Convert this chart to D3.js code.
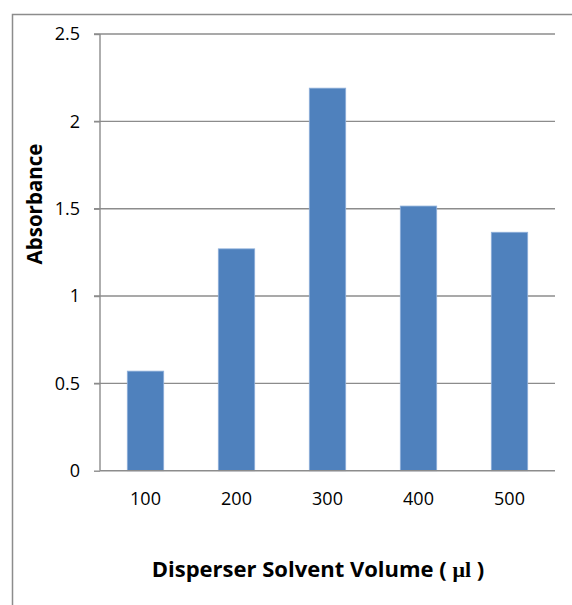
<!DOCTYPE html>
<html>
<head>
<meta charset="utf-8">
<script src="https://cdn.jsdelivr.net/npm/d3@7"></script>
<style>
  body { margin: 0; background: #fff; }
  .tick text { font-family: "Open Sans", sans-serif; font-size: 18px; fill: #000; }
  .title { font-family: "Open Sans", sans-serif; font-weight: bold; fill: #000; }
</style>
</head>
<body>
<script>
//chart values
var volumes = ["100", "200", "300", "400", "500"];
var absorbance = [0.57, 1.27, 2.19, 1.515, 1.365];
var yTicks = [0, 0.5, 1, 1.5, 2, 2.5];

//frame dimensions
var width = 572,
    height = 605;
var margin = {top: 34, right: 17, bottom: 134, left: 100};

var svg = d3.select("body")
    .append("svg")
    .attr("width", width)
    .attr("height", height);

//outer chart border, runs off the right and bottom edges
svg.append("rect")
    .attr("x", 12.5)
    .attr("y", 14.5)
    .attr("width", width)
    .attr("height", height)
    .attr("fill", "none")
    .attr("stroke", "#8c8c8c")
    .attr("stroke-width", 1.5);

var x = d3.scaleBand()
    .domain(volumes)
    .range([margin.left, width - margin.right])
    .paddingInner(0.6)
    .paddingOuter(0.3);

var y = d3.scaleLinear()
    .domain([0, 2.5])
    .range([height - margin.bottom - 0.3, margin.top]);

//gridlines
svg.append("g")
    .selectAll("line")
    .data(yTicks.slice(1))
    .enter()
    .append("line")
    .attr("x1", margin.left - 6)
    .attr("x2", width - margin.right)
    .attr("y1", function(d){ return y(d); })
    .attr("y2", function(d){ return y(d); })
    .attr("stroke", "#8c8c8c")
    .attr("stroke-width", 1.4);

//y axis
var yAxis = svg.append("g")
    .attr("transform", "translate(" + margin.left + ",0)")
    .call(d3.axisLeft(y).tickValues(yTicks).tickSize(6).tickPadding(14).tickFormat(d3.format("")));
yAxis.selectAll("line, path").attr("stroke", "#8c8c8c").attr("stroke-width", 1.4);
yAxis.select(".domain").attr("d", "M0," + y(0) + "V" + y(2.5));

//bars
svg.selectAll(".bar")
    .data(absorbance)
    .enter()
    .append("rect")
    .attr("class", "bar")
    .attr("x", function(d, i){ return x(volumes[i]); })
    .attr("y", function(d){ return y(d); })
    .attr("width", x.bandwidth())
    .attr("height", function(d){ return y(0) - y(d); })
    .attr("fill", "#4f81bd")
    .attr("stroke", "#8fb0da")
    .attr("stroke-width", 0.8);

//x axis
var xAxis = svg.append("g")
    .attr("transform", "translate(0," + y(0) + ")")
    .call(d3.axisBottom(x).tickSize(0).tickPadding(22));
xAxis.select(".domain").attr("stroke", "#8c8c8c").attr("stroke-width", 1.6)
    .attr("d", "M" + margin.left + ",0H" + (width - margin.right));

//axis titles
svg.append("text")
    .attr("class", "title")
    .attr("transform", "translate(42,204) rotate(-90)")
    .attr("text-anchor", "middle")
    .style("font-size", "20.5px")
    .text("Absorbance");

var xTitle = svg.append("text")
    .attr("class", "title")
    .attr("x", 318)
    .attr("y", 577)
    .attr("text-anchor", "middle")
    .style("font-size", "22px");
xTitle.append("tspan").text("Disperser Solvent Volume ( ");
xTitle.append("tspan").style("font-family", "'Liberation Serif', serif").text("\u03bcl");
xTitle.append("tspan").text(" )");
</script>
</body>
</html>
